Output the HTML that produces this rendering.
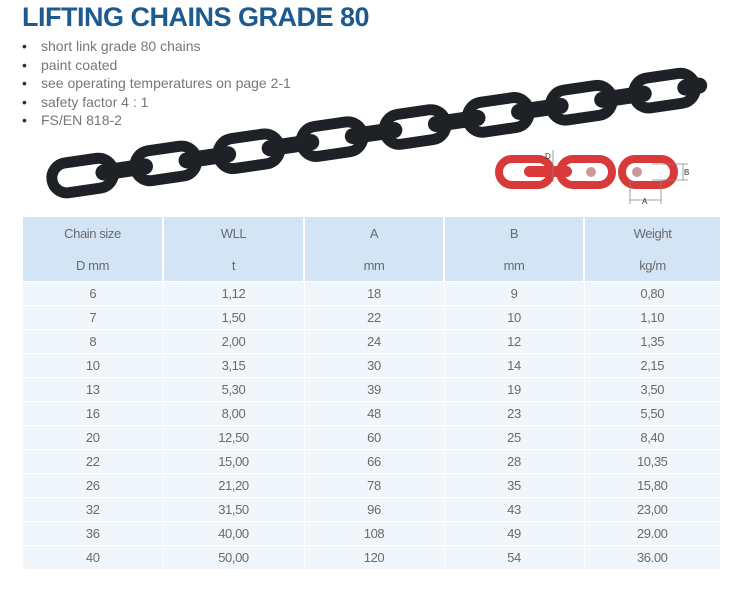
<!DOCTYPE html>
<html><head><meta charset="utf-8"><style>
body{margin:0;width:734px;height:600px;background:#fff;position:relative;overflow:hidden;font-family:"Liberation Sans",sans-serif}
.t{position:absolute;left:22px;top:2px;font-size:27px;font-weight:bold;color:#1c5a8f;letter-spacing:-0.5px}
ul{position:absolute;left:22px;top:37px;margin:0;padding:0;list-style:none;color:#777;font-size:14px;line-height:18.5px}
ul li:before{content:"•";color:#333;display:inline-block;width:19px}
table{position:absolute;left:23px;top:217px;width:697px;border-collapse:collapse;font-size:13px;color:#6a6a6a;text-align:center;letter-spacing:-0.4px;table-layout:fixed}
th{background:#d3e5f5;font-weight:normal;height:32px;border-left:2px solid #fff;padding:0}
th:first-child,td:first-child{border-left:none}
td{background:#f1f6fb;height:23px;border-top:1px solid #fff;border-left:1px solid #fff;padding:0}
</style></head><body>
<div class="t">LIFTING CHAINS GRADE 80</div>
<ul><li>short link grade 80 chains</li><li>paint coated</li><li>see operating temperatures on page 2-1</li><li>safety factor 4 : 1</li><li>FS/EN 818-2</li></ul>
<svg style="position:absolute;left:0;top:0" width="734" height="600">
<g transform="translate(52,180) rotate(-8.3)">
<g fill="none" stroke="#1e2125" stroke-width="11">
<rect x="0" y="-15" width="62" height="30" rx="15"/><rect x="84" y="-15" width="62" height="30" rx="15"/><rect x="168" y="-15" width="62" height="30" rx="15"/><rect x="252" y="-15" width="62" height="30" rx="15"/><rect x="336" y="-15" width="62" height="30" rx="15"/><rect x="420" y="-15" width="62" height="30" rx="15"/><rect x="504" y="-15" width="62" height="30" rx="15"/><rect x="588" y="-15" width="62" height="30" rx="15"/>
</g>
<g fill="#1e2125">
<rect x="44" y="-8" width="58" height="16" rx="8"/><rect x="128" y="-8" width="58" height="16" rx="8"/><rect x="212" y="-8" width="58" height="16" rx="8"/><rect x="296" y="-8" width="58" height="16" rx="8"/><rect x="380" y="-8" width="58" height="16" rx="8"/><rect x="464" y="-8" width="58" height="16" rx="8"/><rect x="548" y="-8" width="58" height="16" rx="8"/><rect x="632" y="-8" width="30" height="16" rx="8"/>
</g></g>
<g stroke="#d83a3a" stroke-width="8" fill="none">
<rect x="499" y="159" width="52" height="26" rx="13"/><rect x="560" y="159" width="52" height="26" rx="13"/><rect x="622" y="159" width="52" height="26" rx="13"/>
</g>
<rect x="524" y="166" width="48" height="11" rx="5.5" fill="#d83a3a"/>
<circle cx="591" cy="172" r="5" fill="#c99"/><circle cx="637" cy="172" r="5" fill="#c99"/>
<g stroke="#888" stroke-width="0.8" fill="none"><path d="M652 164H688M652 180H688M683 164V180M630 180V204M661 180V204M630 200H661M553 150V182"/></g>
<text x="545" y="159" font-size="8" fill="#333">D</text><text x="684" y="175" font-size="8" fill="#333">B</text><text x="642" y="204" font-size="8" fill="#333">A</text>
</svg>
<table>
<colgroup><col style="width:140px"><col style="width:141px"><col style="width:140px"><col style="width:140px"><col style="width:136px"></colgroup>
<tr><th>Chain size</th><th>WLL</th><th>A</th><th>B</th><th>Weight</th></tr>
<tr><th>D mm</th><th>t</th><th>mm</th><th>mm</th><th>kg/m</th></tr>
<tr><td>6</td><td>1,12</td><td>18</td><td>9</td><td>0,80</td></tr>
<tr><td>7</td><td>1,50</td><td>22</td><td>10</td><td>1,10</td></tr>
<tr><td>8</td><td>2,00</td><td>24</td><td>12</td><td>1,35</td></tr>
<tr><td>10</td><td>3,15</td><td>30</td><td>14</td><td>2,15</td></tr>
<tr><td>13</td><td>5,30</td><td>39</td><td>19</td><td>3,50</td></tr>
<tr><td>16</td><td>8,00</td><td>48</td><td>23</td><td>5,50</td></tr>
<tr><td>20</td><td>12,50</td><td>60</td><td>25</td><td>8,40</td></tr>
<tr><td>22</td><td>15,00</td><td>66</td><td>28</td><td>10,35</td></tr>
<tr><td>26</td><td>21,20</td><td>78</td><td>35</td><td>15,80</td></tr>
<tr><td>32</td><td>31,50</td><td>96</td><td>43</td><td>23,00</td></tr>
<tr><td>36</td><td>40,00</td><td>108</td><td>49</td><td>29.00</td></tr>
<tr><td>40</td><td>50,00</td><td>120</td><td>54</td><td>36.00</td></tr>
</table>
</body></html>
